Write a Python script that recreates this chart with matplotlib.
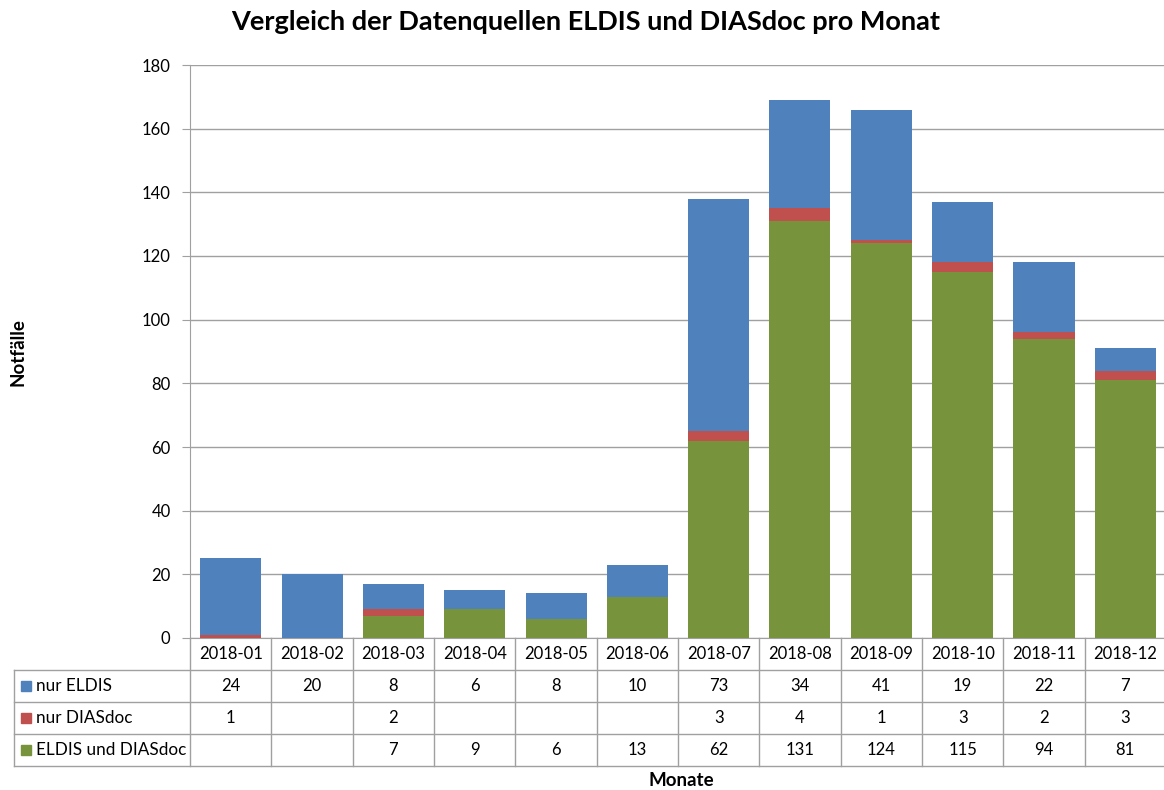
"""Gestapeltes Balkendiagramm ELDIS / DIASdoc pro Monat mit Datentabelle (Excel-Stil)."""
import matplotlib
matplotlib.use("Agg")
import matplotlib.pyplot as plt
from matplotlib.transforms import blended_transform_factory
from matplotlib.lines import Line2D
from matplotlib.patches import Rectangle

plt.rcParams["font.family"] = ["Lato", "DejaVu Sans"]

monate = ["2018-01", "2018-02", "2018-03", "2018-04", "2018-05", "2018-06",
          "2018-07", "2018-08", "2018-09", "2018-10", "2018-11", "2018-12"]
nur_eldis = [24, 20, 8, 6, 8, 10, 73, 34, 41, 19, 22, 7]
nur_dias = [1, 0, 2, 0, 0, 0, 3, 4, 1, 3, 2, 3]
beide = [0, 0, 7, 9, 6, 13, 62, 131, 124, 115, 94, 81]

serien = ["nur ELDIS", "nur DIASdoc", "ELDIS und DIASdoc"]
farben = ["#4F81BD", "#C0504D", "#77933C"]
grau = "#A0A0A0"

W, H = 1164, 790
fig = plt.figure(figsize=(W / 100, H / 100), dpi=100)
x0, x1, y0, y1 = 190, 1166, 65, 638
ax = fig.add_axes([x0 / W, 1 - y1 / H, (x1 - x0) / W, (y1 - y0) / H])

x = list(range(len(monate)))
bw = 0.75
unten = [0] * len(x)
# gruen unten, dann rot, blau oben
for werte, farbe in [(beide, farben[2]), (nur_dias, farben[1]), (nur_eldis, farben[0])]:
    ax.bar(x, werte, bw, bottom=unten, color=farbe, zorder=3)
    unten = [u + w for u, w in zip(unten, werte)]

ax.set_xlim(-0.5, len(x) - 0.5)
ax.set_ylim(0, 180)
ax.set_yticks(range(0, 181, 20))
ax.set_xticks([])
ax.grid(axis="y", color=grau, lw=1, zorder=0)
for s in ["top", "right"]:
    ax.spines[s].set_visible(False)
ax.spines["left"].set_color(grau)
ax.spines["bottom"].set_color(grau)
ax.tick_params(axis="y", length=6, color=grau, labelsize=12, pad=8)

# --- Datentabelle ---
rh = 32 / (y1 - y0)
links = (14 - x0) / (x1 - x0)
tr = blended_transform_factory(ax.transData, ax.transAxes)
kw = dict(color=grau, lw=1, clip_on=False)
for k in range(len(x) + 1):
    ax.add_line(Line2D([k - 0.5, k - 0.5], [0, -4 * rh], transform=tr, **kw))
for r in range(1, 5):
    ax.add_line(Line2D([links, 1], [-r * rh, -r * rh], transform=ax.transAxes, **kw))
ax.add_line(Line2D([links, links], [-rh, -4 * rh], transform=ax.transAxes, **kw))

for i, m in enumerate(monate):
    ax.text(i, -0.5 * rh, m, transform=tr, ha="center", va="center", fontsize=12)
for r, (name, farbe, werte) in enumerate(zip(serien, farben, [nur_eldis, nur_dias, beide])):
    yc = -(r + 1.5) * rh
    sq = 10 / (x1 - x0)
    ax.add_patch(Rectangle((links + 7 / (x1 - x0), yc - 5 / (y1 - y0)), sq, 10 / (y1 - y0),
                           color=farbe, transform=ax.transAxes, clip_on=False))
    ax.text(links + 22 / (x1 - x0), yc, name, transform=ax.transAxes,
            ha="left", va="center", fontsize=12.3)
    for i, v in enumerate(werte):
        if v:
            ax.text(i, yc, str(v), transform=tr, ha="center", va="center", fontsize=12)

fig.text(586 / W, 1 - 22 / H, "Vergleich der Datenquellen ELDIS und DIASdoc pro Monat",
         ha="center", va="center", fontsize=19.5, fontweight="bold")
fig.text(18 / W, 1 - 352 / H, "Notfälle", rotation=90, ha="center", va="center",
         fontsize=13.5, fontweight="bold")
fig.text(681 / W, 1 - 781 / H, "Monate", ha="center", va="center",
         fontsize=13.5, fontweight="bold")

fig.savefig("out.png", dpi=100)
